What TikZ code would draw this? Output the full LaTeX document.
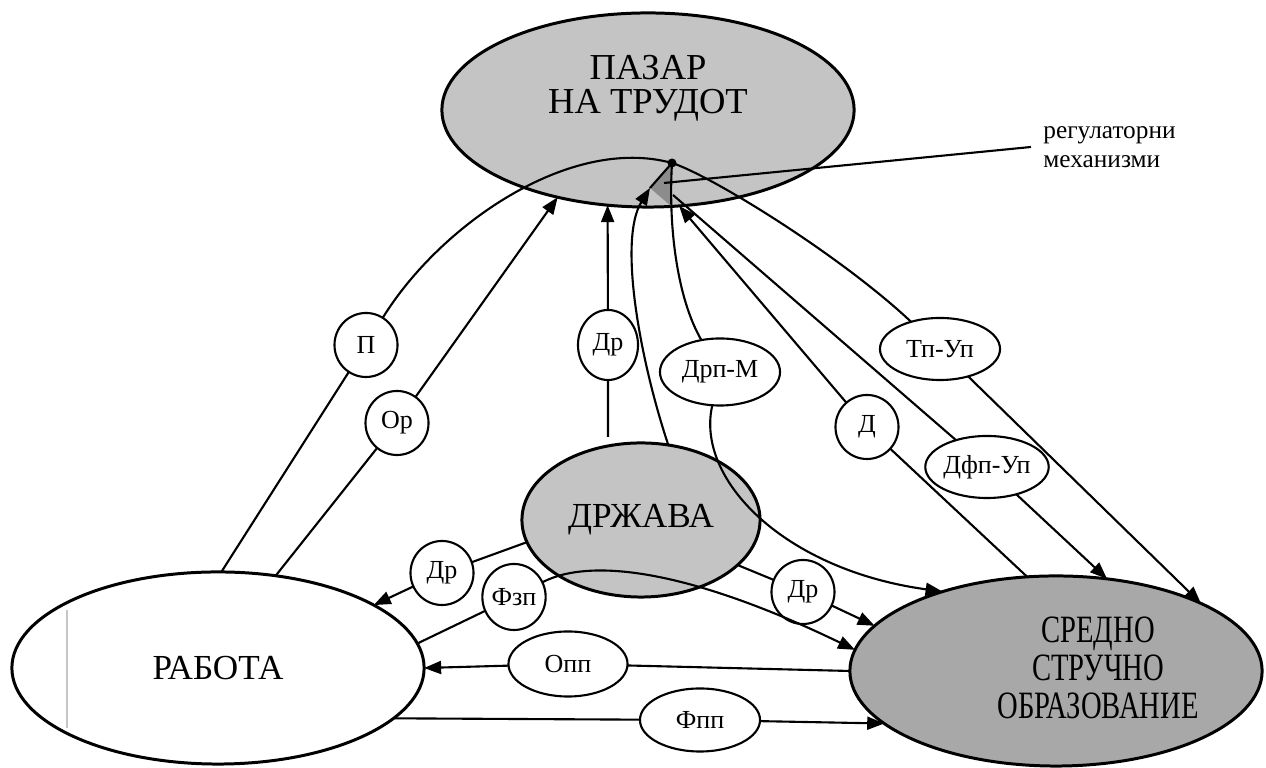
\documentclass[tikz,border=0pt]{standalone}
\usepackage{fontspec}
\setmainfont{Liberation Serif}
\newfontfamily\uzokfont{Liberation Serif}[FakeStretch=0.74]
\usetikzlibrary{arrows.meta,shapes.geometric}
\definecolor{pazarsiva}{gray}{0.77}
\definecolor{srednosiva}{gray}{0.66}
\definecolor{mehanizam}{gray}{0.55}

\begin{document}
\begin{tikzpicture}[x=0.01cm, y=-0.01cm,
  golem/.style={ellipse, draw, line width=0.85pt, inner sep=0pt, outer sep=0pt, font=\rmfamily\fontsize{10}{11}\selectfont, align=center},
  krug/.style={ellipse, draw, fill=white, line width=0.6pt, inner sep=0pt, outer sep=0pt, minimum width=0.63cm, minimum height=0.64cm, font=\rmfamily\fontsize{7.4}{8}\selectfont},
  sirok/.style={krug, minimum width=1.19cm, minimum height=0.64cm},
  vrska/.style={line width=0.6pt},
  strelka/.style={vrska, -{Triangle[length=0.17cm, width=0.13cm]}}]
\useasboundingbox (0,0) rectangle (1266,768);
% glavni jazli
\node[golem, fill=pazarsiva, minimum width=4.12cm, minimum height=1.94cm](PT)at(648,110){};
\node[font=\rmfamily\fontsize{10.4}{9.6}\selectfont, align=center](pazartxt)at(648,88){ПАЗАР\\НА ТРУДОТ};
\node[golem, minimum width=4.12cm, minimum height=1.92cm](R)at(218,668){РАБОТА};
\node[golem, fill=pazarsiva, minimum width=2.38cm, minimum height=1.54cm](D)at(641,520){ДРЖАВА};
\node[golem, fill=srednosiva, minimum width=4.12cm, minimum height=1.9cm](S)at(1056,671){};
\node[font=\uzokfont\fontsize{11}{10.8}\selectfont, align=center](srednotxt)at(1098,668){СРЕДНО\\СТРУЧНО\\ОБРАЗОВАНИЕ};
\draw[gray!45, line width=0.4pt](67,610)--(67,728);
% regulatorni mehanizmi
\coordinate(dot)at(672,163);
\coordinate(tri)at(650,188);
\coordinate(trb)at(671,206);
\coordinate(ptr)at(664,183);
\coordinate(dfs)at(673,195);
\path[fill=mehanizam](dot)--(tri)--(trb)--cycle;
\path[draw, vrska](tri)--(dot);
\node[font=\rmfamily\fontsize{7.2}{8.3}\selectfont, align=left, anchor=west](reg)at(1031,147){регулаторни\\механизми};
\path[draw, vrska](reg.west)--(ptr);
% oznaki
\node[krug](lP)at(366,345){П};
\node[krug](lOr)at(397,423){Ор};
\node[krug, minimum width=0.6cm, minimum height=0.7cm](lDr1)at(608,345){Др};
\node[sirok, minimum width=1.2cm, minimum height=0.67cm](lDrpM)at(720,372){Дрп-М};
\node[sirok, minimum width=1.2cm, minimum height=0.62cm](lTpUp)at(940,349){Тп-Уп};
\node[krug](lD)at(867,427){Д};
\node[sirok, minimum height=0.62cm](lDfpUp)at(987,467){Дфп-Уп};
\node[krug](lDr2)at(442,573){Др};
\node[krug, minimum height=0.66cm](lFzp)at(514,597){Фзп};
\node[krug](lDr3)at(803,592){Др};
\node[sirok, minimum height=0.65cm](lOpp)at(568,664){Опп};
\node[sirok, minimum width=1.2cm, minimum height=0.63cm](lFpp)at(700,720){Фпп};
% rabota - pazar
\path[draw, vrska](R.88)--(lP);
\path[draw, vrska](lP).. controls (440,225) and (570,135) ..(dot);
\path[draw, vrska](dot).. controls (710,175) and (840,255) ..(lTpUp);
\path[draw, strelka](lTpUp)--(S.25);
\path[draw, vrska](R.58)--(lOr);
\path[draw, strelka](lOr)--(PT.224);
% drzava
\path[draw, vrska, shorten <=0.09cm](D.114)--(lDr1);
\path[draw, strelka](lDr1)--(PT.247);
\path[draw, strelka](D.70).. controls (640,360) and (618,240) ..(tri);
\path[draw, vrska](D.191)--(lDr2);
\path[draw, strelka](lDr2)--(R.22);
\path[draw, vrska](D.335)--(lDr3);
\path[draw, strelka](lDr3)--(S.166);
% pazar - sredno
\path[draw, vrska](dot).. controls (668,230) and (678,300) ..(lDrpM);
\path[draw, strelka](lDrpM).. controls (695,480) and (785,570) ..(S.145);
\path[draw, vrska](S.107)--(lD);
\path[draw, strelka](lD)--(PT.288);
\path[draw, vrska](dfs)--(lDfpUp);
\path[draw, strelka](lDfpUp)--(S.61);
% rabota - sredno
\path[draw, vrska](R.7)--(lFzp);
\path[draw, strelka](lFzp).. controls (595,555) and (700,575) ..(S.174);
\path[draw, vrska](S.180)--(lOpp);
\path[draw, strelka](lOpp)--(R.0);
\path[draw, vrska](R.-16)--(lFpp);
\path[draw, strelka](lFpp)--(S.197);
\fill(dot)circle[radius=0.045cm];
\end{tikzpicture}
\end{document}
